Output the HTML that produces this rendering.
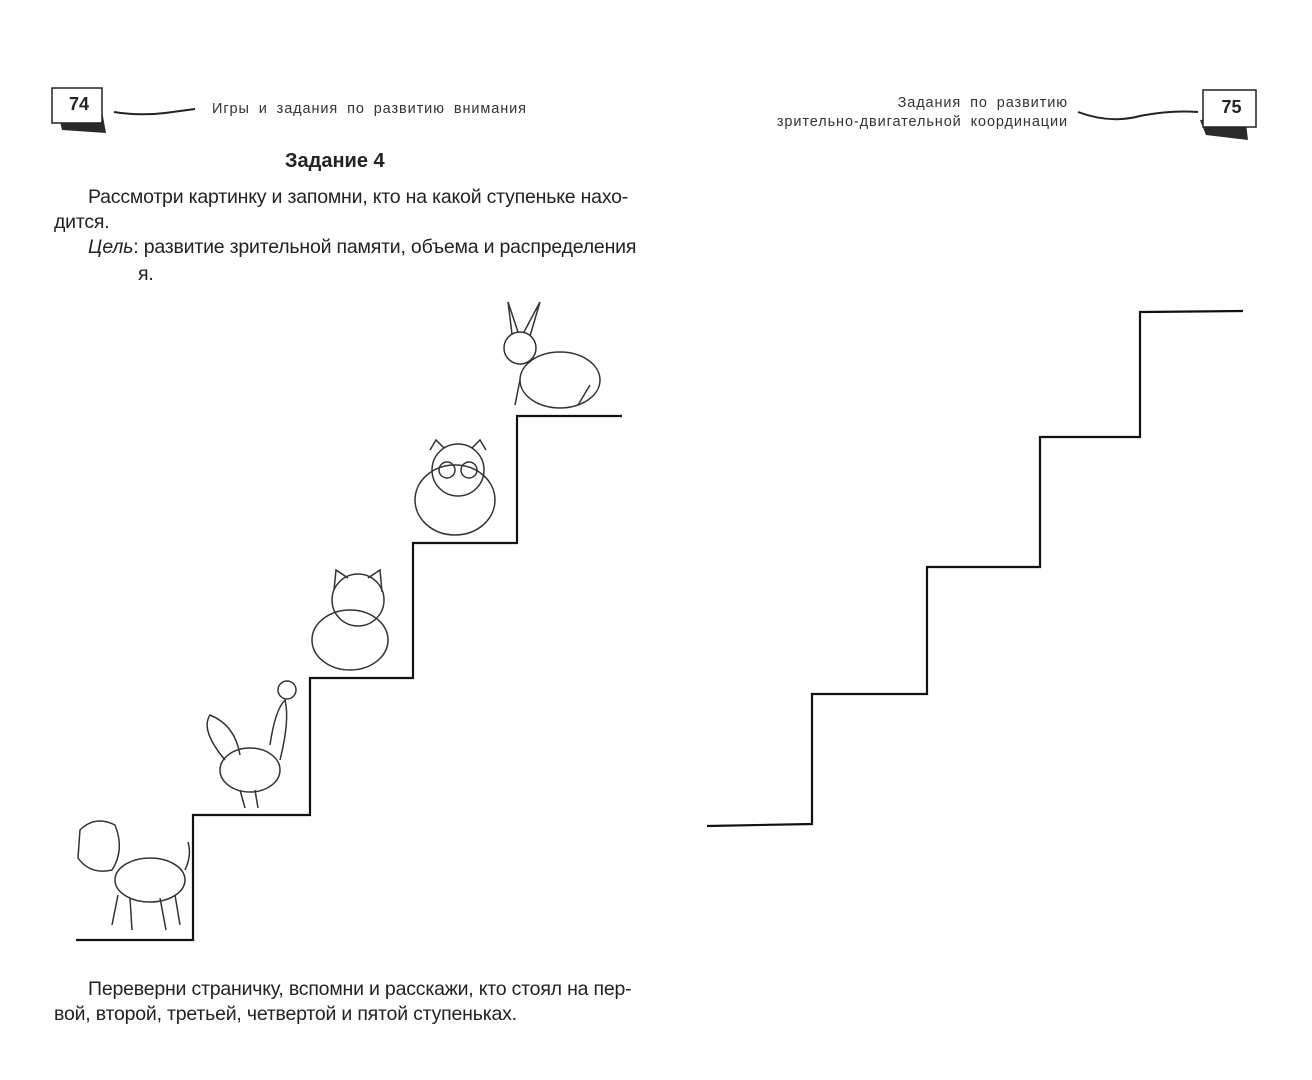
<!DOCTYPE html>
<html><head><meta charset="utf-8"><style>
body{margin:0;width:1312px;height:1080px;background:#fff;position:relative;overflow:hidden;font-family:"Liberation Sans",sans-serif;color:#222}
.t{position:absolute;white-space:nowrap}
.p{font-size:19.5px;letter-spacing:-0.2px}
.h{font-size:14.5px;color:#333;letter-spacing:0.9px;word-spacing:4px}
</style></head><body>
<svg width="1312" height="1080" style="position:absolute;left:0;top:0">
<g fill="#2a2a2a"><polygon points="58,112 100,100 106,133 62,130"/><polygon points="1200,120 1245,115 1248,140 1206,135"/></g>
<rect x="52" y="88" width="50" height="35" fill="#fff" stroke="#222" stroke-width="1.5"/>
<rect x="1203" y="90" width="53" height="37" fill="#fff" stroke="#222" stroke-width="1.5"/>
<path d="M114,112 Q140,116 165,113 Q180,111 195,109" stroke="#222" stroke-width="2" fill="none"/>
<path d="M1078,112 Q1110,124 1140,116 Q1170,110 1198,112" stroke="#222" stroke-width="2" fill="none"/>
<g stroke="#111" stroke-width="2.2" fill="none">
<polyline points="76,940 193,940 193,815 310,815 310,678 413,678 413,543 517,543 517,416 622,416"/>
<polyline points="707,826 812,824 812,694 927,694 927,567 1040,567 1040,437 1140,437 1140,312 1243,311"/>
</g>
<g stroke="#333" stroke-width="1.5" fill="none">
<ellipse cx="560" cy="380" rx="40" ry="28"/><circle cx="520" cy="348" r="16"/><path d="M512,334 L508,302 L518,332 M524,332 L540,302 L530,336"/><path d="M515,405 L520,380 M578,405 L590,385"/>
<ellipse cx="455" cy="500" rx="40" ry="35"/><circle cx="458" cy="470" r="26"/><circle cx="447" cy="470" r="8"/><circle cx="469" cy="470" r="8"/><path d="M430,450 L436,440 L444,448 M472,448 L480,440 L486,450"/>
<circle cx="358" cy="600" r="26"/><path d="M334,590 L336,570 L348,578 M368,578 L380,570 L382,592"/><ellipse cx="350" cy="640" rx="38" ry="30"/>
<ellipse cx="250" cy="770" rx="30" ry="22"/><path d="M280,760 Q290,720 285,700 Q275,710 270,745"/><path d="M225,760 Q200,730 210,715 Q235,725 240,755"/><path d="M240,790 L245,808 M255,790 L258,808"/><circle cx="287" cy="690" r="9"/>
<path d="M80,830 Q95,815 115,825 Q125,850 112,870 Q90,875 78,858 Z"/><ellipse cx="150" cy="880" rx="35" ry="22"/><path d="M185,870 Q192,855 188,842 M118,895 L112,925 M130,898 L132,930 M160,898 L166,930 M175,895 L180,925"/>
</g>
</svg>
<div class="t h" style="left:212px;top:101px">Игры и задания по развитию внимания</div>
<div class="t h" style="right:244px;top:95px;text-align:right">Задания по развитию</div>
<div class="t h" style="right:244px;top:114px;text-align:right">зрительно-двигательной координации</div>
<div class="t" style="left:54px;top:94px;width:50px;text-align:center;font-weight:bold;font-size:18px">74</div>
<div class="t" style="left:1205px;top:97px;width:53px;text-align:center;font-weight:bold;font-size:18px">75</div>
<div class="t" style="left:285px;top:150px;font-weight:bold;font-size:20px">Задание 4</div>
<div class="t p" style="left:88px;top:186px">Рассмотри картинку и запомни, кто на какой ступеньке нахо-</div>
<div class="t p" style="left:54px;top:211px">дится.</div>
<div class="t p" style="left:88px;top:236px"><i>Цель</i>: развитие зрительной памяти, объема и распределения</div>
<div class="t p" style="left:138px;top:263px">я.</div>
<div class="t p" style="left:88px;top:978px">Переверни страничку, вспомни и расскажи, кто стоял на пер-</div>
<div class="t p" style="left:54px;top:1003px">вой,  второй, третьей, четвертой и пятой ступеньках.</div>
</body></html>
